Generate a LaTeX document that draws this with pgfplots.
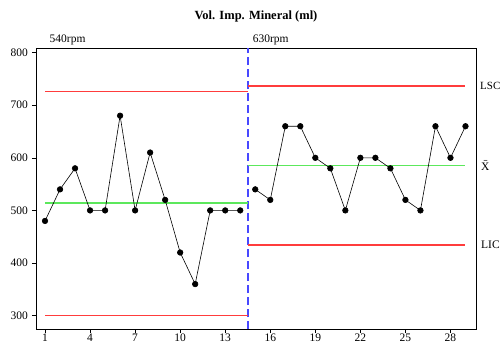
\documentclass[border=0pt]{standalone}
\usepackage{pgfplots}
\pgfplotsset{compat=1.18}
\usepackage{fontspec}
\setmainfont{Liberation Serif}
\definecolor{lred}{HTML}{FF3C3C}
\definecolor{lgreen}{HTML}{5CE85C}
\definecolor{lblue}{HTML}{4848FF}
\begin{document}
\fontsize{11.5}{13}\selectfont
\begin{tikzpicture}[x=1pt,y=1pt]
\useasboundingbox (-36,-17) rectangle (464,329);
\begin{axis}[
  at={(0,0)}, anchor=south west,
  scale only axis, width=440pt, height=281pt,
  xmin=0.4, xmax=29.7, ymin=274.6, ymax=808.7,
  xtick={1,4,...,28}, ytick={300,400,...,800},
  tick align=outside, xtick pos=bottom, ytick pos=left,
  major tick length=4pt,
  /pgf/number format/assume math mode=true,
  tick label style={font=\fontsize{11.5}{13}\selectfont, black},
  xticklabel style={inner sep=1pt},
  tick style={black, line width=0.6pt},
  axis line style={black, line width=0.7pt},
  clip=false,
]
% divider
\addplot[draw=lblue, line width=1.6pt, dash pattern=on 8pt off 4pt] coordinates {(14.5,274.6) (14.5,808.7)};
% upper control limits
\addplot[draw=lred, line width=1.6pt] coordinates {(1,726) (14.5,726)};
\addplot[draw=lred, line width=1.6pt] coordinates {(14.5,737) (29,737)};
% centre lines
\addplot[draw=lgreen, line width=1.8pt] coordinates {(1,513.6) (14.5,513.6)};
\addplot[draw=lgreen, line width=1.8pt] coordinates {(14.5,585.3) (29,585.3)};
% lower control limits
\addplot[draw=lred, line width=1.6pt] coordinates {(1,300) (14.5,300)};
\addplot[draw=lred, line width=1.6pt] coordinates {(14.5,434) (29,434)};
% data
\addplot[color=black, line width=0.6pt, mark=*, mark size=2.8pt] coordinates {
(1,480) (2,540) (3,580) (4,500) (5,500) (6,680) (7,500) (8,610) (9,520) (10,420) (11,360) (12,500) (13,500) (14,500)};
\addplot[color=black, line width=0.6pt, mark=*, mark size=2.8pt] coordinates {
(15,540) (16,520) (17,660) (18,660) (19,600) (20,580) (21,500) (22,600) (23,600) (24,580) (25,520) (26,500) (27,660) (28,600) (29,660)};
% labels
\node[anchor=base, font=\fontsize{12.5}{14}\selectfont\bfseries] at (rel axis cs:0.5,1) [yshift=28pt] {Vol. Imp. Mineral (ml)};
\node[anchor=base west, inner sep=0pt, font=\fontsize{11.5}{13}\selectfont] at (axis cs:1.3,808.7) [yshift=5pt] {540rpm};
\node[anchor=base west, inner sep=0pt, font=\fontsize{11.5}{13}\selectfont] at (axis cs:14.83,808.7) [yshift=5pt] {630rpm};
\node[anchor=west, inner sep=0pt, font=\fontsize{11}{13}\selectfont] at (axis cs:29.7,737) [xshift=4pt] {LSC};
\node[anchor=west, inner sep=0pt, font=\fontsize{11.5}{13}\selectfont] at (axis cs:29.7,585.3) [xshift=5pt] {\={X}};
\node[anchor=west, inner sep=0pt, font=\fontsize{11.5}{13}\selectfont] at (axis cs:29.7,434) [xshift=5pt] {LIC};
\end{axis}
\end{tikzpicture}
\end{document}
